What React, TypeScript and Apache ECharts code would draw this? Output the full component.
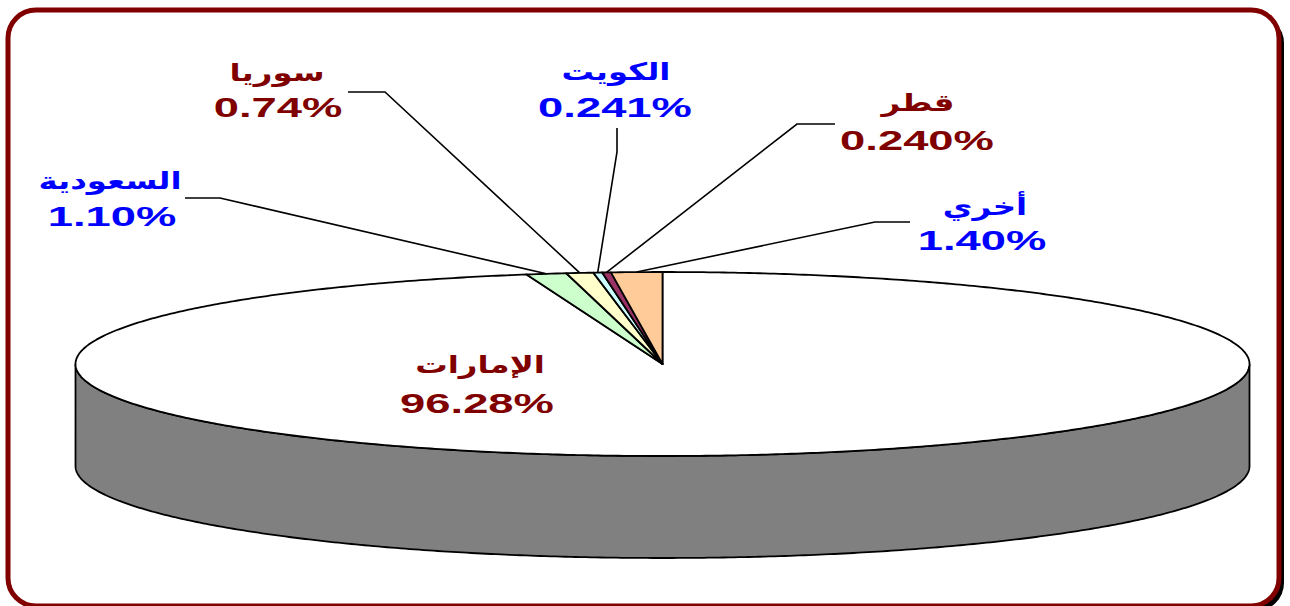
import React, { useEffect, useRef } from "react";
import * as echarts from "echarts";

// ---- data ----
const names = ["الإمارات", "السعودية", "سوريا", "الكويت", "قطر", "أخري"];
const values = [96.28, 1.1, 0.74, 0.241, 0.24, 1.4];
const valueLabels = ["96.28%", "1.10%", "0.74%", "0.241%", "0.240%", "1.40%"];

// ---- styles / layout ----
const fills = ["#FFFFFF", "#CCFFCC", "#FFFFCC", "#CCFFFF", "#993366", "#FFCC99"];
const textColors = ["#800000", "#0000FF", "#800000", "#0000FF", "#800000", "#0000FF"];
const namePos = [[480, 365], [110, 181], [277, 73], [616, 72], [918, 103], [985, 207]];
const pctPos = [[477, 403], [112, 216], [278, 107], [615, 107], [917, 140], [982, 240]];
const leaderPts: (number[][] | null)[] = [
  null,
  [[185, 198], [220, 198]],
  [[348, 92], [385, 92]],
  [[617, 128], [617, 152]],
  [[835, 124], [797, 124]],
  [[910, 222], [875, 222]],
];

const CX = 662.5, CY = 364, RX = 587, RY = 92, DEPTH = 102;
const FONT = "'Liberation Sans', Arial, 'DejaVu Sans', sans-serif";

const pt = (deg: number, dy = 0) => {
  const r = (deg * Math.PI) / 180;
  return [CX + RX * Math.sin(r), CY - RY * Math.cos(r) + dy];
};
const arc = (a0: number, a1: number, dy = 0) => {
  const pts: number[][] = [];
  const n = Math.max(2, Math.ceil(Math.abs(a1 - a0) / 0.5));
  for (let k = 0; k <= n; k++) pts.push(pt(a0 + ((a1 - a0) * k) / n, dy));
  return pts;
};

export default function App() {
  const ref = useRef<HTMLDivElement>(null);
  useEffect(() => {
    if (!ref.current) return;
    const chart = echarts.init(ref.current, undefined, { renderer: "svg" });
    const total = values.reduce((a, b) => a + b, 0);
    const cum: number[] = [];
    values.reduce((acc, v, i) => { cum[i] = acc; return acc + v; }, 0);

    chart.setOption({
      animation: false,
      graphic: [
        { type: "rect", silent: true, z: 0, shape: { x: 13, y: 15, width: 1271, height: 596, r: 28 }, style: { fill: "#000" } },
        { type: "rect", silent: true, z: 1, shape: { x: 8, y: 10, width: 1271, height: 596, r: 28 }, style: { fill: "#fff", stroke: "#800000", lineWidth: 5 } },
      ],
      series: [
        {
          type: "custom",
          coordinateSystem: "none",
          silent: true,
          z: 5,
          data: values.map((v, i) => ({ name: names[i], value: v })),
          renderItem: (params: any, api: any) => {
            const i = params.dataIndex;
            const v = api.value(0);
            const a0 = (cum[i] / total) * 360;
            const a1 = ((cum[i] + v) / total) * 360;
            const children: any[] = [];
            if (i === 0) {
              const top = arc(90, 270);
              const bottom = arc(270, 90, DEPTH);
              children.push({
                type: "polygon",
                shape: { points: top.concat(bottom) },
                style: { fill: "#808080", stroke: "#000", lineWidth: 1.8 },
              });
            }
            children.push({
              type: "polygon",
              shape: { points: [[CX, CY]].concat(arc(a0, a1)) },
              style: { fill: fills[i], stroke: "#000", lineWidth: 1.8, lineJoin: "round" },
            });
            const lp = leaderPts[i];
            if (lp) {
              const edge = pt((a0 + a1) / 2);
              children.push({
                type: "polyline",
                shape: { points: [lp[0], lp[1], edge] },
                style: { fill: null, stroke: "#000", lineWidth: 1.6 },
              });
            }
            children.push({
              type: "text",
              x: namePos[i][0],
              y: namePos[i][1],
              scaleX: 1.35,
              style: {
                text: names[i], fill: textColors[i], fontSize: 24, fontWeight: "bold",
                fontFamily: FONT, align: "center", verticalAlign: "middle",
              },
            });
            children.push({
              type: "text",
              x: pctPos[i][0],
              y: pctPos[i][1],
              scaleX: 1.62,
              style: {
                text: valueLabels[i], fill: textColors[i], fontSize: 28, fontWeight: "bold",
                fontFamily: FONT, align: "center", verticalAlign: "middle",
              },
            });
            return { type: "group", children };
          },
        },
      ],
    });
    return () => chart.dispose();
  }, []);
  return (
    <div
      ref={ref}
      style={{ position: "absolute", left: 0, top: 0, width: 1290, height: 606, background: "#fff" }}
    />
  );
}
